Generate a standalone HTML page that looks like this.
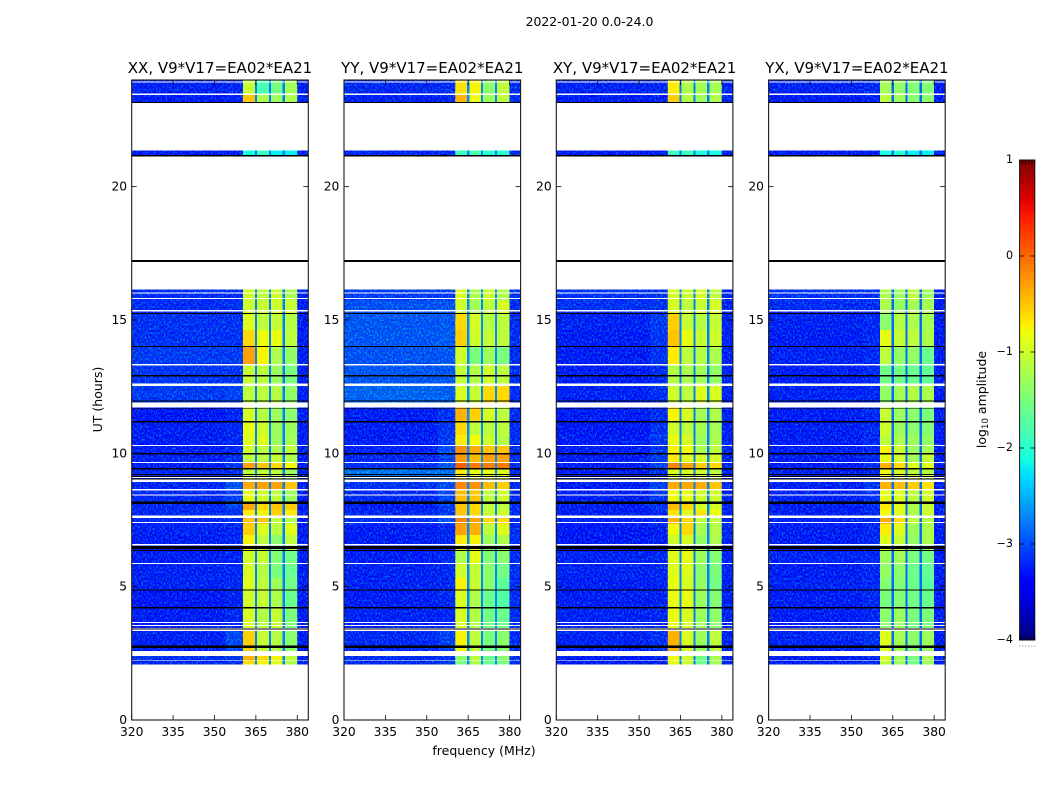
<!DOCTYPE html>
<html lang="en">
<head>
<meta charset="utf-8">
<title>2022-01-20 0.0-24.0</title>
<style>
html,body{margin:0;padding:0;background:#fff;width:1050px;height:800px;overflow:hidden}
svg{display:block}
text{font-family:"DejaVu Sans","Liberation Sans",sans-serif;fill:#000}
</style>
</head>
<body>
<svg id="figure" width="1050" height="800" viewBox="0 0 1050 800" xmlns="http://www.w3.org/2000/svg">
  <defs>
    <filter id="speckle" x="0" y="0" width="1" height="1" color-interpolation-filters="sRGB">
      <feTurbulence type="fractalNoise" baseFrequency="0.62 0.46" numOctaves="1" seed="7"/>
      <feColorMatrix type="matrix" values="0 0 0 0 0  2.2 0 0 0 -0.95  0 1.7 0 0 0.14  0 0 0 0 0.55"/>
    </filter>
    <linearGradient id="jet-gradient" x1="0" y1="1" x2="0" y2="0"></linearGradient>
  </defs>
  <text x="589.5" y="26" font-size="12.4" text-anchor="middle">2022-01-20 0.0-24.0</text>
  <text x="484" y="755" font-size="12.5" text-anchor="middle">frequency (MHz)</text>
  <text x="0" y="0" font-size="12.5" text-anchor="middle" transform="translate(102,399.5) rotate(-90)">UT (hours)</text>
  <text x="0" y="0" font-size="12.5" text-anchor="middle" transform="translate(986,399.5) rotate(-90)">log<tspan font-size="8.6" dy="2">10</tspan><tspan dy="-2"> amplitude</tspan></text>
  <g id="panels"></g>
  <g id="colorbar"></g>
</svg>
<script>
// ---- Chart data -----------------------------------------------------------
const panelTitles = ["XX, V9*V17=EA02*EA21", "YY, V9*V17=EA02*EA21", "XY, V9*V17=EA02*EA21", "YX, V9*V17=EA02*EA21"];
const panelKeys = ["xx", "yy", "xy", "yx"];
const xTickLabels = [320, 335, 350, 365, 380];
const yTickLabels = [0, 5, 10, 15, 20];
const colorbarTicks = [1, 0, -1, -2, -3, -4];

// time blocks (UT hours) shared by all four correlations
const blockStart = [24,23.43,21.36,16.15,15.74,15.22,14.62,14.02,13.34,12.59,11.71,11.24,10.68,10.31,10,9.67,9.45,8.93,8.62,8.17,7.87,7.65,7.35,6.93,6.33,5.85,5.32,4.87,4.24,3.34,2.4,2.25];
const blockEnd   = [23.43,23.14,21.14,15.74,15.22,14.62,14.02,13.34,12.59,11.9,11.24,10.68,10.31,10,9.67,9.45,8.93,8.62,8.17,7.87,7.65,7.35,6.93,6.33,5.85,5.32,4.87,4.24,3.34,2.59,2.25,2.06];

// log10 amplitude for each block: [background, near-band, band1, band2, band3, band4]
const xxLevels = [
[-3.25,-3.2,-1.05,-1.8,-1.55,-1.25],[-3.3,-3.25,-0.5,-1.2,-1.3,-1.2],[-3.3,-3.3,-2.1,-1.9,-2.2,-2.2],
[-3.15,-3.15,-1,-1.1,-1,-1.2],[-3.15,-3.1,-1,-1.05,-1,-1.05],[-3.1,-3.1,-0.9,-1.1,-1.05,-1.15],
[-3.1,-3.1,-0.6,-0.8,-0.85,-1.1],[-3,-3,-0.3,-0.75,-1.2,-1.35],[-3.05,-3.05,-1.05,-1.1,-1.3,-1.5],
[-3,-2.9,-1.1,-1.1,-1.15,-1.35],[-3.35,-3.2,-0.95,-1.15,-1.3,-1.4],[-3.3,-3.2,-0.85,-1,-1.3,-1.3],
[-3.3,-3.2,-0.9,-0.9,-1.3,-1.25],[-3.3,-3.2,-1,-1.1,-1.2,-1.1],[-3.25,-3.15,-1.1,-1.1,-1.05,-1.2],
[-3.3,-3,-0.3,-0.5,-0.6,-0.75],[-3.2,-3.1,-1.1,-1.05,-1.1,-1.3],[-3.2,-2.75,-0.35,-0.3,-0.3,-0.5],
[-3.2,-2.95,-0.85,-1,-1.1,-1.3],[-3.2,-2.95,-0.35,-0.6,-0.5,-0.55],[-3.2,-3.1,-0.7,-0.75,-0.55,-0.7],
[-3.2,-3.1,-0.5,-0.5,-1.1,-1.2],[-3.25,-3.2,-0.55,-0.9,-1.1,-0.9],[-3.3,-3.2,-0.75,-1.1,-1.4,-1.1],
[-3.3,-3.25,-1,-1.05,-1.45,-1.55],[-3.25,-3.2,-0.95,-1.15,-1.5,-1.6],[-3.25,-3.2,-0.9,-1.1,-1.3,-1.55],
[-3.35,-3.25,-1,-1.05,-1.2,-1.6],[-3.3,-3.2,-0.95,-1.15,-1.05,-1.5],[-3.25,-2.85,-0.55,-1.05,-1.15,-1.4],
[-3.1,-3,-0.4,-0.6,-0.75,-1.1],[-3.2,-3.1,-0.6,-0.75,-0.9,-1.2]];
const yyLevels = [
[-3.2,-3.15,-0.65,-0.75,-1.4,-1.1],[-3.25,-3.2,-0.4,-0.8,-1.3,-1.1],[-3.2,-3.2,-1.9,-1.8,-2,-2],
[-3,-3,-0.9,-1.2,-1,-1.2],[-2.75,-2.75,-1,-1.25,-1.1,-0.95],[-2.7,-2.7,-0.6,-0.95,-1.15,-1.1],
[-2.7,-2.65,-0.55,-1,-1.05,-1.1],[-2.75,-2.7,-1,-1.5,-1.3,-1.5],[-2.7,-2.7,-1.05,-1.15,-1,-1.1],
[-2.55,-2.6,-0.95,-1.05,-0.6,-0.6],[-3.3,-3.1,-0.4,-0.55,-0.95,-1.1],[-3.3,-3.05,-0.6,-1.1,-1.1,-1.1],
[-3.3,-3,-0.7,-0.8,-1,-1.15],[-3.25,-2.8,-0.2,-0.35,-0.5,-0.5],[-3.2,-2.9,-0.25,-0.45,-0.3,-0.3],
[-3.1,-2.7,0.05,-0.1,-0.1,-0.1],[-2.4,-2.4,-0.7,-0.8,-0.8,-0.9],[-3.05,-2.8,-0.15,-0.2,-0.45,-0.55],
[-3.2,-2.9,-0.45,-0.5,-1.1,-1],[-3.3,-3,-0.5,-0.6,-1.1,-1.1],[-3.2,-3,-0.5,-0.6,-1.05,-1],
[-3.1,-2.85,-0.15,-0.3,-0.6,-0.6],[-3.3,-3.2,-0.3,-0.4,-1.1,-0.9],[-3.3,-3.2,-0.7,-0.75,-1.3,-1.2],
[-3.3,-3.2,-1.2,-0.85,-1.45,-1.4],[-3.25,-3.2,-1,-1.05,-1.4,-1.55],[-3.25,-3.2,-0.75,-1.05,-1.4,-1.7],
[-3.3,-3.2,-0.95,-1.2,-1.6,-1.75],[-3.25,-3.2,-0.95,-1.15,-1.55,-1.6],[-3.2,-2.95,-0.75,-1.1,-1.5,-1.4],
[-3.15,-3.1,-1.4,-1.1,-1.6,-1.4],[-3.2,-3.1,-1.5,-1.2,-1.6,-1.5]];
const xyLevels = [
[-3.25,-3.2,-0.7,-1.2,-1.25,-1.25],[-3.3,-3.3,-0.55,-1.15,-1.3,-1.2],[-3.3,-3.3,-1.9,-1.9,-2.1,-2.1],
[-3.1,-3.1,-0.95,-1.05,-0.95,-1.1],[-3.1,-3.1,-0.95,-1.1,-1.05,-0.95],[-3.25,-3,-0.55,-1.05,-1.15,-1.05],
[-3.3,-3.05,-0.5,-0.85,-1.05,-1],[-3.3,-3.1,-0.7,-1.1,-1.15,-1.2],[-3.3,-3.15,-1.15,-1.2,-1.25,-1.35],
[-3.25,-3.15,-1,-1.1,-0.9,-0.95],[-3.3,-3.15,-0.75,-0.95,-1.25,-1.2],[-3.35,-3.1,-1,-1.1,-1.25,-1.25],
[-3.3,-3.05,-0.85,-0.95,-1.3,-1.2],[-3.3,-3.05,-0.75,-0.8,-1.2,-1.1],[-3.3,-3,-0.7,-0.9,-0.95,-0.95],
[-3.3,-2.9,-0.15,-0.3,-0.55,-0.6],[-3.3,-3.1,-0.9,-0.95,-1,-1.1],[-3.3,-2.9,-0.35,-0.35,-0.35,-0.5],
[-3.3,-3.05,-0.8,-0.85,-1,-1],[-3.3,-3.1,-0.45,-0.6,-0.95,-0.95],[-3.3,-3.2,-0.65,-0.9,-0.65,-0.8],
[-3.25,-3.15,-0.4,-0.6,-1.1,-1.1],[-3.35,-3.3,-0.8,-0.6,-1.25,-1.15],[-3.35,-3.3,-1,-0.95,-1.35,-1.2],
[-3.25,-3.2,-0.9,-0.85,-1.3,-1.45],[-3.25,-3.2,-0.9,-0.9,-1.4,-1.5],[-3.3,-3.25,-0.85,-0.95,-1.35,-1.55],
[-3.3,-3.25,-0.85,-0.85,-1.3,-1.45],[-3.25,-3.2,-0.85,-0.95,-1.3,-1.4],[-3.25,-3.1,-0.4,-0.95,-1.3,-1.1],
[-3.3,-3.25,-0.8,-1,-1.55,-1.2],[-3.35,-3.3,-0.85,-1.05,-1.55,-1.25]];
const yxLevels = [
[-3.25,-3.2,-1.25,-1.35,-1.45,-1.45],[-3.3,-3.3,-1.1,-1.3,-1.4,-1.4],[-3.3,-3.3,-2.1,-2,-2.2,-2.2],
[-3.1,-3.1,-1.2,-1.3,-1.1,-1.3],[-3.15,-3.15,-1.2,-1.35,-1.25,-1.25],[-3.25,-3.2,-1.4,-1.15,-1.2,-1.25],
[-3.3,-3.2,-0.85,-1.05,-1.1,-1.2],[-3.25,-3.2,-1.1,-1.35,-1.35,-1.6],[-3.3,-3.2,-1.55,-1.55,-1.6,-1.65],
[-3.25,-3.2,-1.35,-1.25,-1.15,-1.2],[-3.3,-3.2,-1.05,-1.3,-1.4,-1.5],[-3.3,-3.2,-1,-1.3,-1.4,-1.45],
[-3.3,-3.2,-1.1,-1.2,-1.3,-1.35],[-3.3,-3.2,-0.75,-1,-1.3,-1.25],[-3.3,-3.2,-0.85,-1,-1.25,-1.05],
[-3.3,-3.1,-0.4,-0.6,-0.9,-0.9],[-3.3,-3.2,-0.8,-0.95,-1.1,-1.15],[-3.25,-3.05,-0.4,-0.45,-0.55,-0.65],
[-3.25,-3.1,-0.85,-0.9,-1.1,-1],[-3.3,-3.2,-0.7,-0.9,-1.2,-1.05],[-3.3,-3.2,-0.8,-0.9,-1.2,-1],
[-3.25,-3.2,-0.35,-0.6,-1.1,-1.15],[-3.3,-3.2,-0.7,-0.9,-1.3,-1.2],[-3.3,-3.2,-0.9,-1.05,-1.35,-1.2],
[-3.25,-3.2,-1.3,-1.25,-1.5,-1.55],[-3.3,-3.2,-1.35,-1.4,-1.6,-1.65],[-3.25,-3.2,-1.45,-1.45,-1.6,-1.7],
[-3.3,-3.2,-1.5,-1.45,-1.55,-1.6],[-3.3,-3.2,-1.4,-1.3,-1.5,-1.5],[-3.25,-3.1,-0.9,-1.25,-1.4,-1.3],
[-3.3,-3.2,-0.95,-1.25,-1.5,-1.2],[-3.3,-3.2,-1.1,-1.3,-1.55,-1.3]];

// frequency channels (MHz): sub-band edges
const channelEdges = [320, 354, 360.3, 364.6, 365.4, 369.7, 370.4, 374.7, 375.5, 380, 384];
// log10 amplitude of the sub-band gaps and the channels above the band
const gapLevel = [-2.75, -2.7, -2.75, -2.85];
const edgeLevel = [-3.3, -3.15, -3.25, -3.3];

// missing data (white) and flagged data (black) ranges, UT hours
const missingStart = [23.95,23.49,23.14,21.14,17.18,16.04,15.82,15.37,13.35,12.62,11.9,10.32,9.68,9.11,9.01,8.66,8.45,7.67,7.43,6.6,5.89,3.67,3.56,3.45,2.59,2.25,2.09];
const missingEnd   = [23.9,23.44,21.36,17.25,16.15,16,15.78,15.32,13.3,12.52,11.71,10.27,9.63,9.07,8.93,8.61,8.41,7.57,7.38,6.54,5.85,3.63,3.52,3.34,2.4,2.23,2.05];
const flaggedStart = [23.17,21.19,17.25,15.26,14.03,12.94,11.99,11.69,11.21,10.01,9.45,9.22,9.15,9.05,8.19,6.52,6.37,4.9,4.24,3.43,2.79];
const flaggedEnd   = [23.14,21.14,17.18,15.22,13.98,12.89,11.94,11.66,11.16,9.96,9.4,9.18,9.11,9.01,8.1,6.41,6.33,4.86,4.19,3.4,2.7];

// ---- Axis functions ---------------------------------------------------------
const NS = 'http://www.w3.org/2000/svg';
const axisLeft = [131.7, 344, 556.3, 768.6];
const axisWidth = 176.6, axisTop = 80, axisBottom = 720;
const xMin = 320, xMax = 384, yMin = 0, yMax = 24;
const xScale = (p, mhz) => axisLeft[p] + (mhz - xMin) / (xMax - xMin) * axisWidth;
const yScale = h => axisBottom - (h - yMin) / (yMax - yMin) * (axisBottom - axisTop);
const cbTop = 160, cbBottom = 640, cbLeft = 1019.6, cbRight = 1034.8, cbMin = -4, cbMax = 1;
const cbScale = v => cbBottom - (v - cbMin) / (cbMax - cbMin) * (cbBottom - cbTop);

function interp(t, pts) {
  for (let i = 1; i < pts.length; i++) {
    if (t <= pts[i][0]) {
      const a = pts[i - 1], b = pts[i];
      return a[1] + (b[1] - a[1]) * (t - a[0]) / (b[0] - a[0]);
    }
  }
  return pts[pts.length - 1][1];
}
function jet(v) {
  const t = Math.max(0, Math.min(1, (v - cbMin) / (cbMax - cbMin)));
  const r = interp(t, [[0, 0], [0.35, 0], [0.66, 1], [0.89, 1], [1, 0.5]]);
  const g = interp(t, [[0, 0], [0.125, 0], [0.375, 1], [0.64, 1], [0.91, 0], [1, 0]]);
  const b = interp(t, [[0, 0.5], [0.11, 1], [0.34, 1], [0.65, 0], [1, 0]]);
  return 'rgb(' + Math.round(r * 255) + ',' + Math.round(g * 255) + ',' + Math.round(b * 255) + ')';
}
function make(tag, parent, attrs) {
  const el = document.createElementNS(NS, tag);
  for (const k in attrs) el.setAttribute(k, attrs[k]);
  parent.appendChild(el);
  return el;
}

// ---- Panels -----------------------------------------------------------------
const allLevels = [xxLevels, yyLevels, xyLevels, yxLevels];
const panelsRoot = document.getElementById('panels');

panelKeys.forEach(function (key, p) {
  const g = make('g', panelsRoot, {});
  
  

  const levels = allLevels[p];
  const heat = make('g', g, { 'shape-rendering': 'crispEdges' });
  
  

  blockStart.forEach(function (startHour, r) {
    const row = levels[r];
    // per-channel value: bg, near, b1, gap, b2, gap, b3, gap, b4, edge
    const channelValues = [row[0], row[1], row[2], gapLevel[p], row[3], gapLevel[p], row[4], gapLevel[p], row[5], edgeLevel[p]];
    channelValues.forEach(function (val, c) {
      const x0 = xScale(p, channelEdges[c]), x1 = xScale(p, channelEdges[c + 1]);
      const y0 = yScale(startHour), y1 = yScale(blockEnd[r]);
      const cell = make('rect', heat, { x: x0.toFixed(2), y: y0.toFixed(2), width: (x1 - x0).toFixed(2), height: (y1 - y0).toFixed(2), fill: jet(val) });
      
      
    });
  });

  // speckle over the noise-only channels
  const speckLeft = make('rect', g, { x: xScale(p, 320), y: yScale(24), width: xScale(p, 360.3) - xScale(p, 320), height: yScale(2.06) - yScale(24), fill: '#000', filter: 'url(#speckle)' });
  
  
  const speckRight = make('rect', g, { x: xScale(p, 380), y: yScale(24), width: xScale(p, 384) - xScale(p, 380), height: yScale(2.06) - yScale(24), fill: '#000', filter: 'url(#speckle)' });
  
  

  missingStart.forEach(function (h, i) {
    const y0 = yScale(h), y1 = yScale(missingEnd[i]);
    const m = make('rect', g, { x: axisLeft[p], y: y0.toFixed(2), width: axisWidth, height: (y1 - y0).toFixed(2), fill: '#fff', 'shape-rendering': 'crispEdges' });
    
    
  });
  flaggedStart.forEach(function (h, i) {
    const y0 = yScale(h), y1 = yScale(flaggedEnd[i]);
    const m = make('rect', g, { x: axisLeft[p], y: y0.toFixed(2), width: axisWidth, height: (y1 - y0).toFixed(2), fill: '#000', 'shape-rendering': 'crispEdges' });
    
    
  });

  // ticks and labels
  xTickLabels.forEach(function (mhz) {
    const x = xScale(p, mhz);
    const t1 = make('line', g, { x1: x, x2: x, y1: axisBottom, y2: axisBottom - 5, stroke: '#000', 'stroke-width': 0.8 });
    
    
    const t2 = make('line', g, { x1: x, x2: x, y1: axisTop, y2: axisTop + 5, stroke: '#000', 'stroke-width': 0.8 });
    
    
    const lab = make('text', g, { x: x, y: 736, 'font-size': 12.3, 'text-anchor': 'middle' });
    
    
    lab.textContent = mhz;
  });
  yTickLabels.forEach(function (h) {
    const y = yScale(h);
    const t1 = make('line', g, { x1: axisLeft[p], x2: axisLeft[p] + 5, y1: y, y2: y, stroke: '#000', 'stroke-width': 0.8 });
    
    
    const t2 = make('line', g, { x1: axisLeft[p] + axisWidth, x2: axisLeft[p] + axisWidth - 5, y1: y, y2: y, stroke: '#000', 'stroke-width': 0.8 });
    
    
    const lab = make('text', g, { x: axisLeft[p] - 4.6, y: y + 4, 'font-size': 12.3, 'text-anchor': 'end' });
    
    
    lab.textContent = h;
  });

  const frame = make('rect', g, { x: axisLeft[p], y: axisTop, width: axisWidth, height: axisBottom - axisTop, fill: 'none', stroke: '#1a1a1a', 'stroke-width': 1.1 });
  
  

  const title = make('text', g, { x: axisLeft[p] + axisWidth / 2, y: 73, 'font-size': 15, 'text-anchor': 'middle' });
  
  
  title.textContent = panelTitles[p];
});

// ---- Colorbar ---------------------------------------------------------------
const grad = document.getElementById('jet-gradient');
for (let i = 0; i <= 50; i++) {
  make('stop', grad, { offset: (i / 50), 'stop-color': jet(cbMin + (cbMax - cbMin) * i / 50) });
}
const cbRoot = document.getElementById('colorbar');
const cbBar = make('rect', cbRoot, { x: cbLeft, y: cbTop, width: cbRight - cbLeft, height: cbBottom - cbTop, fill: 'url(#jet-gradient)', stroke: '#111', 'stroke-width': 1 });


colorbarTicks.forEach(function (v) {
  const y = cbScale(v);
  const t1 = make('line', cbRoot, { x1: cbLeft, x2: cbLeft + 4.4, y1: y, y2: y, stroke: '#000', 'stroke-width': 0.8 });
  
  
  const t2 = make('line', cbRoot, { x1: cbRight, x2: cbRight - 4.4, y1: y, y2: y, stroke: '#000', 'stroke-width': 0.8 });
  
  
  const lab = make('text', cbRoot, { x: 1013, y: y + 3, 'font-size': 11.1, 'text-anchor': 'end' });
  
  
  lab.textContent = String(v).replace('-', '\u2212');
});
const cbEndTicks = [0, 1, 2, 3, 4, 5];
cbEndTicks.forEach(function (i) {
  const x = cbLeft + (cbRight - cbLeft) * i / 5;
  const top = make('line', cbRoot, { x1: x, x2: x, y1: cbTop, y2: cbTop + 4.4, stroke: '#000', 'stroke-width': 0.7 });
  
  
  const bot = make('line', cbRoot, { x1: x, x2: x, y1: cbBottom, y2: cbBottom - 4.4, stroke: '#000', 'stroke-width': 0.7 });
  
  
  const dot = make('rect', cbRoot, { x: x - 0.5, y: 645.6, width: 1, height: 1, fill: '#777' });
  
  
});
</script>
</body>
</html>
